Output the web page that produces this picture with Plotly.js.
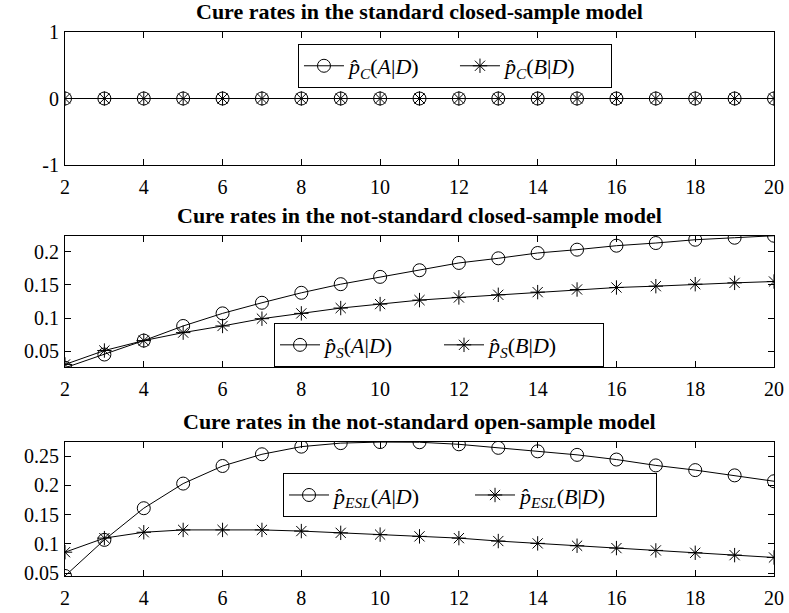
<!DOCTYPE html>
<html>
<head>
<meta charset="utf-8">
<script src="https://cdn.plot.ly/plotly-3.0.1.min.js"></script>
<style>html,body{margin:0;padding:0;background:#fff;}#chart{width:789px;height:613px;}</style>
</head>
<body>
<div id="chart"></div>
<script>
// ---- data ----
const x = [2,3,4,5,6,7,8,9,10,11,12,13,14,15,16,17,18,19,20];

const pC_A = [0,0,0,0,0,0,0,0,0,0,0,0,0,0,0,0,0,0,0];
const pC_B = [0,0,0,0,0,0,0,0,0,0,0,0,0,0,0,0,0,0,0];

const pS_A = [0.025,0.045,0.066,0.088,0.107,0.123,0.138,0.151,0.162,0.172,0.183,0.190,0.198,0.203,0.209,0.213,0.218,0.221,0.224];
const pS_B = [0.030,0.051,0.066,0.078,0.088,0.099,0.107,0.115,0.121,0.127,0.131,0.135,0.139,0.143,0.146,0.148,0.151,0.153,0.155];

const pE_A = [0.0455,0.107,0.161,0.203,0.233,0.253,0.266,0.272,0.2738,0.2735,0.270,0.264,0.258,0.252,0.244,0.234,0.226,0.217,0.207];
const pE_B = [0.086,0.110,0.120,0.124,0.124,0.124,0.122,0.119,0.116,0.113,0.110,0.105,0.101,0.097,0.093,0.089,0.085,0.081,0.077];

const titles = [
  "Cure rates in the standard closed-sample model",
  "Cure rates in the not-standard closed-sample model",
  "Cure rates in the not-standard open-sample model"
];
const namesA = ["<i>p̂</i><sub><i>C</i></sub>(<i>A</i>|<i>D</i>)", "<i>p̂</i><sub><i>S</i></sub>(<i>A</i>|<i>D</i>)", "<i>p̂</i><sub><i>ESL</i></sub>(<i>A</i>|<i>D</i>)"];
const namesB = ["<i>p̂</i><sub><i>C</i></sub>(<i>B</i>|<i>D</i>)", "<i>p̂</i><sub><i>S</i></sub>(<i>B</i>|<i>D</i>)", "<i>p̂</i><sub><i>ESL</i></sub>(<i>B</i>|<i>D</i>)"];

const xTicks = [2,4,6,8,10,12,14,16,18,20];
const y1Ticks = [-1,0,1];
const y1Text = ["-1","0","1"];
const y2Ticks = [0.05,0.1,0.15,0.2];
const y3Ticks = [0.05,0.1,0.15,0.2,0.25];

// ---- build ----
const FONT = "'Liberation Serif', 'Times New Roman', Times, serif";
const seriesA = [pC_A, pS_A, pE_A];
const seriesB = [pC_B, pS_B, pE_B];
const traces = [];
for (let i = 0; i < 3; i++) {
  const ax = i === 0 ? "" : String(i + 1);
  const lg = i === 0 ? "legend" : "legend" + (i + 1);
  traces.push({x: x, y: seriesA[i], xaxis: "x" + ax, yaxis: "y" + ax, legend: lg,
    mode: "lines+markers", name: namesA[i], line: {color: "#000", width: 1},
    marker: {symbol: "circle-open", size: 13, color: "#000", line: {color: "#000", width: 1}}});
  traces.push({x: x, y: seriesB[i], xaxis: "x" + ax, yaxis: "y" + ax, legend: lg,
    mode: "lines+markers", name: namesB[i], line: {color: "#000", width: 1},
    marker: {symbol: "asterisk-open", size: 12, color: "#000", line: {color: "#000", width: 1}}});
}

function xa(anchor) {
  return {anchor: anchor, range: [2, 20], tickvals: xTicks, ticks: "inside", ticklen: 6,
    tickcolor: "#000", showline: true, linecolor: "#000", linewidth: 1, mirror: "allticks",
    showgrid: false, zeroline: false, ticklabelstandoff: 4,
    tickfont: {family: FONT, size: 20, color: "#000"}};
}
function ya(anchor, domain, range, vals, text) {
  const o = {anchor: anchor, domain: domain, range: range, tickvals: vals, ticks: "inside", ticklen: 6,
    tickcolor: "#000", showline: true, linecolor: "#000", linewidth: 1, mirror: "allticks",
    showgrid: false, zeroline: false, ticklabelstandoff: 1,
    tickfont: {family: FONT, size: 20, color: "#000"}};
  if (text) o.ticktext = text;
  return o;
}

const doms = [[0.7555, 1], [0.3842, 0.625], [0, 0.2463]];
function leg(xp, yp, ew) {
  return {orientation: "h", bgcolor: "#fff", bordercolor: "#000", borderwidth: 1,
    font: {family: FONT, size: 22, color: "#000"}, itemwidth: 40, xanchor: "left", yanchor: "top",
    entrywidth: ew, entrywidthmode: "pixels", x: xp, y: yp};
}

const layout = {
  width: 789, height: 613,
  margin: {l: 65, r: 15, t: 32, b: 37},
  paper_bgcolor: "#fff", plot_bgcolor: "#fff",
  font: {family: FONT, color: "#000"},
  xaxis: xa("y"), yaxis: ya("x", doms[0], [-1, 1], y1Ticks, y1Text),
  xaxis2: xa("y2"), yaxis2: ya("x2", doms[1], [0.0262, 0.2236], y2Ticks),
  xaxis3: xa("y3"), yaxis3: ya("x3", doms[2], [0.0454, 0.2739], y3Ticks),
  legend: leg(0.3286, 0.978, 101),
  legend2: leg(0.2948, 0.465, 109),
  legend3: leg(0.3075, 0.189, 131),
  showlegend: true,
  annotations: titles.map((t, i) => ({
    text: "<b>" + t + "</b>", xref: "paper", yref: "paper", x: 0.5, y: doms[i][1],
    xanchor: "center", yanchor: "middle", yshift: 21, showarrow: false,
    font: {family: FONT, size: 22, color: "#000"}
  }))
};

Plotly.newPlot("chart", traces, layout, {staticPlot: true, displayModeBar: false});
</script>
</body>
</html>
